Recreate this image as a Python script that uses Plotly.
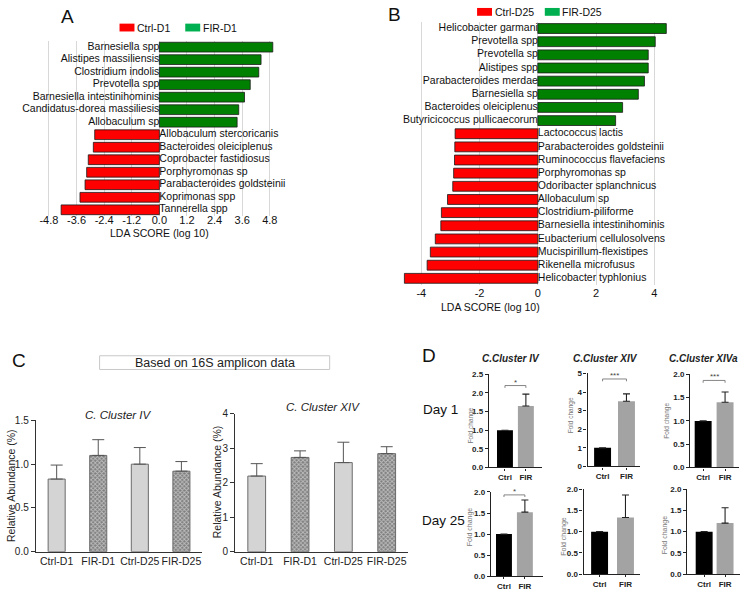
import plotly.graph_objects as go

# ---------------- data ----------------
a_species = ["Barnesiella spp", "Alistipes massiliensis", "Clostridium indolis", "Prevotella spp",
             "Barnesiella intestinihominis", "Candidatus-dorea massiliesis", "Allobaculum sp",
             "Allobaculum stercoricanis", "Bacteroides oleiciplenus", "Coprobacter fastidiosus",
             "Porphyromonas sp", "Parabacteroides goldsteinii", "Koprimonas spp", "Tannerella spp"]
a_lda = [4.93, 4.42, 4.32, 3.95, 3.70, 3.45, 3.38, -2.81, -2.87, -3.09, -3.16, -3.23, -3.45, -4.27]
a_ticks = [-4.8, -3.6, -2.4, -1.2, 0.0, 1.2, 2.4, 3.6, 4.8]

b_species = ["Helicobacter garmani", "Prevotella spp", "Prevotella sp", "Alistipes spp",
             "Parabacteroides merdae", "Barnesiella sp", "Bacteroides oleiciplenus",
             "Butyricicoccus pullicaecorum", "Lactococcus lactis", "Parabacteroides goldsteinii",
             "Ruminococcus flavefaciens", "Porphyromonas sp", "Odoribacter splanchnicus",
             "Allobaculum sp", "Clostridium-piliforme", "Barnesiella intestinihominis",
             "Eubacterium cellulosolvens", "Mucispirillum-flexistipes", "Rikenella microfusus",
             "Helicobacter typhlonius"]
b_lda = [4.41, 4.03, 3.79, 3.79, 3.66, 3.45, 2.91, 2.67, -2.84, -2.85, -2.86, -2.89, -2.92,
         -3.10, -3.31, -3.33, -3.52, -3.69, -3.80, -4.58]
b_ticks = [-4, -2, 0, 2, 4]

c_groups = ["Ctrl-D1", "FIR-D1", "Ctrl-D25", "FIR-D25"]
c_iv_mean = [0.83, 1.10, 1.00, 0.92]
c_iv_sd = [0.16, 0.18, 0.19, 0.11]
c_xiv_mean = [2.19, 2.73, 2.58, 2.84]
c_xiv_sd = [0.36, 0.19, 0.59, 0.20]

d_groups = ["Ctrl", "FIR"]
d_titles = ["C.Cluster IV", "C.Cluster XIV", "C.Cluster XIVa"]
d1_iv_mean, d1_iv_err = [1.0, 1.65], [0, 0.32]
d1_xiv_mean, d1_xiv_err = [1.0, 3.50], [0, 0.40]
d1_xiva_mean, d1_xiva_err = [1.0, 1.40], [0, 0.22]
d25_iv_mean, d25_iv_err = [1.0, 1.52], [0, 0.29]
d25_xiv_mean, d25_xiv_err = [1.0, 1.33], [0, 0.53]
d25_xiva_mean, d25_xiva_err = [1.0, 1.20], [0, 0.36]
d1_sig = ["*", "***", "***"]
d1_sig_level = [2.2, 4.7, 1.87]
d25_sig = ["*", "", ""]
d25_sig_level = [1.93, None, None]
d1_ymax = [2.5, 5, 2.0]
d1_dtick = [0.5, 1, 0.5]
d25_ymax = [2.0, 2.0, 2.0]
d25_dtick = [0.5, 0.5, 0.5]

# ---------------- geometry helpers (pixel -> paper) ----------------
W, H = 743, 592
FONT = "Liberation Sans, Arial, sans-serif"


def PX(px):
    return px / W


def PY(py):
    return 1 - py / H


def lin_range(dom, zero_px, ppu):
    return [(dom[0] - zero_px) / ppu, (dom[1] - zero_px) / ppu]


def cat_range(dom, c0, c1):
    s = c1 - c0
    return [(dom[0] - c0) / s, (dom[1] - c0) / s]


annotations = []
shapes = []


def ann(text, x, y, size=11, color="#111", xanchor="center", yanchor="middle", **kw):
    d = dict(text=text, x=PX(x), y=PY(y), xref="paper", yref="paper", showarrow=False,
             xanchor=xanchor, yanchor=yanchor, font=dict(size=size, color=color, family=FONT))
    d.update(kw)
    annotations.append(d)


fig = go.Figure()
layout = dict(width=W, height=H, margin=dict(l=0, r=0, t=0, b=0, pad=0),
              paper_bgcolor="white", plot_bgcolor="rgba(0,0,0,0)", showlegend=False,
              font=dict(family=FONT, color="#111", size=11))

RED = "#ff0000"
GREEN = "#008000"


def lda_panel(axn, species, lda, ticks, xdom, zero_px, ppu, ytop, ybot, barw, tickfmt, axis_py):
    xa = "x" if axn == 1 else f"x{axn}"
    ya = "y" if axn == 1 else f"y{axn}"
    fig.add_trace(go.Bar(
        x=lda, y=species, orientation="h", width=barw,
        marker=dict(color=[GREEN if v > 0 else RED for v in lda],
                    line=dict(color="#1a1a1a", width=0.8)),
        xaxis=xa, yaxis=ya, hoverinfo="skip"))
    fig.add_trace(go.Scatter(
        x=[0] * len(species), y=species, mode="text", text=species,
        textposition=["middle left" if v > 0 else "middle right" for v in lda],
        textfont=dict(size=10.5, color="#111", family=FONT),
        xaxis=xa, yaxis=ya, hoverinfo="skip", cliponaxis=False))
    n = len(species)
    layout["xaxis" if axn == 1 else f"xaxis{axn}"] = dict(
        domain=[PX(xdom[0]), PX(xdom[1])], range=lin_range(xdom, zero_px, ppu),
        tickvals=ticks, ticktext=[tickfmt.format(t) for t in ticks],
        showgrid=True, gridcolor="#d8d8d8", gridwidth=0.7, zeroline=False, showline=False,
        ticks="", tickfont=dict(size=11, color="#111"), anchor="free", position=PY(axis_py))
    layout["yaxis" if axn == 1 else f"yaxis{axn}"] = dict(
        domain=[PY(ybot), PY(ytop)], type="category", categoryorder="array",
        categoryarray=species, range=[n - 0.5, -0.5], showticklabels=False,
        showgrid=False, zeroline=False, showline=False, anchor=xa)


# Panel A  (zero at x=157px, 23.1 px per unit; rows 42..208px)
lda_panel(1, a_species, a_lda, a_ticks, (40, 290), 157, 23.1, 35.6, 214.4, 0.78, "{:.1f}", 210.5)
# Panel B  (zero at x=537px, 29.25 px per unit; rows 23..278px)
lda_panel(2, b_species, b_lda, b_ticks, (400, 690), 537, 29.25, 16.3, 284.7, 0.75, "{:d}", 284.7)

ann("LDA SCORE (log 10)", 157, 232, size=10.5)
ann("LDA SCORE (log 10)", 489, 307, size=10.5)


# legends of A and B
def legend_item(x0, yc, color, label):
    shapes.append(dict(type="rect", xref="paper", yref="paper", x0=PX(x0), x1=PX(x0 + 15),
                       y0=PY(yc + 4), y1=PY(yc - 4), fillcolor=color, line=dict(width=0)))
    ann(label, x0 + 15.5, yc, size=10.5, xanchor="left")


legend_item(117, 22, RED, "Ctrl-D1")
legend_item(183, 22, "#00b050", "FIR-D1")
legend_item(476, 6, RED, "Ctrl-D25")
legend_item(544, 6, "#00b050", "FIR-D25")


# ---------------- Panel C ----------------
def c_panel(axn, means, sds, xdom, ydom, ymax, dtick, fmt):
    xa, ya = f"x{axn}", f"y{axn}"
    fir = [g.startswith("FIR") for g in c_groups]
    fig.add_trace(go.Bar(
        x=c_groups, y=means, width=0.41,
        error_y=dict(type="data", array=sds, arrayminus=[0] * len(sds), symmetric=False,
                     color="#555", thickness=1, width=6),
        marker=dict(color=["#7e7e7e" if f else "#d4d4d4" for f in fir],
                    line=dict(color="#6a6a6a", width=1),
                    pattern=dict(shape=["x" if f else "" for f in fir], fillmode="overlay",
                                 fgcolor="#1a1a1a", size=3, solidity=0.5)),
        xaxis=xa, yaxis=ya, hoverinfo="skip"))
    layout[f"xaxis{axn}"] = dict(
        domain=[PX(xdom[0]), PX(xdom[1])], range=[-0.5, 3.5], type="category",
        showline=True, linecolor="#333", linewidth=1.2, ticks="", showgrid=False,
        zeroline=False, tickfont=dict(size=10.5, color="#222"), anchor=ya)
    layout[f"yaxis{axn}"] = dict(
        domain=[PY(ydom[1]), PY(ydom[0])], range=[0, ymax], dtick=dtick, tickformat=fmt,
        showline=True, linecolor="#333", linewidth=1.2, ticks="outside", ticklen=4,
        tickcolor="#333", showgrid=False, zeroline=False,
        tickfont=dict(size=10, color="#222"), anchor=xa)


c_panel(3, c_iv_mean, c_iv_sd, (33, 200), (423, 557), 1.5, 0.5, ".1f")
c_panel(4, c_xiv_mean, c_xiv_sd, (233, 407), (416, 557), 4, 1, "d")

ann("Relative Abundance (%)", 8, 489, size=10.5, color="#222", textangle=-90)
ann("Relative Abundance (%)", 215, 486, size=10.5, color="#222", textangle=-90)
ann("<i>C. Cluster IV</i>", 116, 417, size=11.5, color="#222")
ann("<i>C. Cluster XIV</i>", 321, 409, size=11.5, color="#222")
ann("Based on 16S amplicon data", 212.5, 364, size=12.5, color="#222")
shapes.append(dict(type="rect", xref="paper", yref="paper", x0=PX(97), x1=PX(328),
                   y0=PY(371), y1=PY(357), line=dict(color="#c8c8c8", width=1)))

# ---------------- Panel D ----------------
d_means = [d1_iv_mean, d1_xiv_mean, d1_xiva_mean, d25_iv_mean, d25_xiv_mean, d25_xiva_mean]
d_errs = [d1_iv_err, d1_xiv_err, d1_xiva_err, d25_iv_err, d25_xiv_err, d25_xiva_err]
d_sigs = d1_sig + d25_sig
d_sig_levels = d1_sig_level + d25_sig_level
d_ymaxs = d1_ymax + d25_ymax
d_dticks = d1_dtick + d25_dtick
# pixel geometry per subplot: (x domain, ctrl centre, fir centre, y top, y bottom, bar px)
d_geom = [((488, 541), 504, 525, 376, 471, 16), ((587, 640), 602, 626, 375, 470, 17),
          ((690, 739), 703, 725, 376, 471, 17), ((490, 542), 503, 524, 496, 582, 16),
          ((583, 640), 599, 625, 493, 580, 17), ((687, 740), 704, 725, 493, 580, 17)]
d_fold_pos = [(470, 428, 6.5), (570, 418, 6.5), (667, 423, 6.5),
              (469, 532, 7), (563, 541, 7), (665, 540, 7)]

for i in range(6):
    axn = 5 + i
    xa, ya = f"x{axn}", f"y{axn}"
    (xd, c0, c1, yt, yb, bpx) = d_geom[i]
    fig.add_trace(go.Bar(
        x=d_groups, y=d_means[i], width=bpx / (c1 - c0),
        marker=dict(color=["#000000", "#a3a3a3"], line=dict(width=0)),
        error_y=dict(type="data", array=d_errs[i], arrayminus=[0, 0], symmetric=False,
                     color="#222", thickness=1.1, width=3.5),
        xaxis=xa, yaxis=ya, hoverinfo="skip"))
    ymax = d_ymaxs[i]
    fmt = "d" if d_dticks[i] >= 1 else ".1f"
    layout[f"xaxis{axn}"] = dict(
        domain=[PX(xd[0]), PX(xd[1])], range=cat_range(xd, c0, c1), type="category",
        showline=True, linecolor="#222", linewidth=1.4, ticks="outside", ticklen=2,
        tickcolor="#222", showgrid=False, zeroline=False,
        tickfont=dict(size=8, color="#222", weight="bold"), anchor=ya)
    layout[f"yaxis{axn}"] = dict(
        domain=[PY(yb), PY(yt)], range=[0, ymax], dtick=d_dticks[i], tickformat=fmt,
        showline=True, linecolor="#222", linewidth=1.4, ticks="outside", ticklen=3,
        tickcolor="#222", showgrid=False, zeroline=False,
        tickfont=dict(size=8, color="#222", weight="bold"), anchor=xa)
    if d_sigs[i]:
        h = d_sig_levels[i]
        t = 0.025 * ymax
        fig.add_trace(go.Scatter(
            x=["Ctrl", "Ctrl", "FIR", "FIR"], y=[h - t, h, h, h - t], mode="lines",
            line=dict(color="#777", width=0.9), xaxis=xa, yaxis=ya, hoverinfo="skip"))
        annotations.append(dict(text=d_sigs[i], x=0.5, y=h, xref=xa, yref=ya,
                                xanchor="center", yanchor="bottom", yshift=-3,
                                showarrow=False, font=dict(size=8, color="#444")))
    fx, fy, fs = d_fold_pos[i]
    ann("Fold change", fx, fy, size=fs, color="#777", textangle=-90)

for j, tx in enumerate([510, 605, 703]):
    ann(f"<b><i>{d_titles[j]}</i></b>", tx, 360, size=10, color="#222")

ann("Day 1", 439, 412, size=13.5)
ann("Day 25", 442, 525, size=13.5)

# panel letters
for letter, lx, ly in [("A", 65, 11), ("B", 393, 9), ("C", 16, 362), ("D", 428, 357)]:
    ann(letter, lx, ly, size=19)

layout["annotations"] = annotations
layout["shapes"] = shapes
fig.update_layout(**layout)
fig.write_html("out.html", config={"displayModeBar": False},
               post_script="document.body.style.margin='0';document.body.style.padding='0';")
